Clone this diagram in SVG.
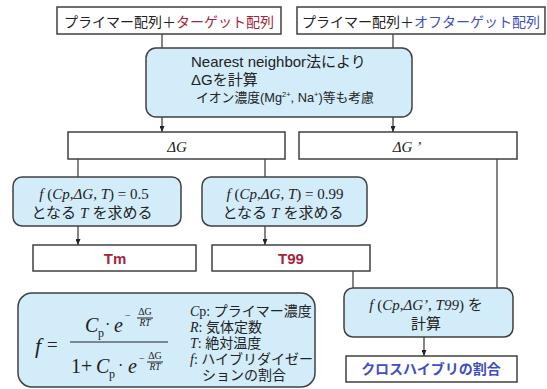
<svg xmlns="http://www.w3.org/2000/svg" width="547" height="389" viewBox="0 0 547 389">
<defs>
<marker id="ah" markerWidth="6" markerHeight="5" refX="6" refY="2.5" orient="auto" markerUnits="userSpaceOnUse"><path d="M0,0 L6,2.5 L0,5 z" fill="#222"/></marker>
</defs>
<style>
.box{fill:#fff;stroke:#404040;stroke-width:1.5}
.rbox{fill:#d2ecfa;stroke:#404040;stroke-width:1.5}
.ln{stroke:#333;stroke-width:1.2;fill:none}
.arr{stroke:#333;stroke-width:1.2;fill:none;marker-end:url(#ah)}
.jp{font-family:"Liberation Sans","Noto Sans CJK JP",sans-serif;fill:#222}
.sf{font-family:"Liberation Serif","Noto Sans CJK JP",serif;fill:#222}
.it{font-style:italic}
.red{fill:#a3263a}
.blue{fill:#3c4fc4}
.b{font-weight:bold}
.bar{stroke:#222;stroke-width:1}
</style>
<g id="connectors">
<path class="ln" d="M162,34 V48"/>
<path class="ln" d="M393,34 V48"/>
<path class="arr" d="M162,117 V132"/>
<path class="arr" d="M393,117 V132"/>
<path class="ln" d="M78,159 V177"/>
<path class="ln" d="M265,159 V177"/>
<path class="arr" d="M78,226 V245"/>
<path class="arr" d="M265,226 V245"/>
<path class="ln" d="M353,271 V288"/>
<path class="ln" d="M497,159 V288"/>
<path class="arr" d="M424,337 V356"/>
</g>
<g id="top-target">
<rect class="box" x="57" y="7" width="224" height="27"/>
<text class="jp" x="169" y="26.5" font-size="14" text-anchor="middle">プライマー配列＋<tspan class="red">ターゲット配列</tspan></text>
</g>
<g id="top-offtarget">
<rect class="box" x="297" y="7" width="248" height="27"/>
<text class="jp" x="421" y="26.5" font-size="14" text-anchor="middle">プライマー配列＋<tspan class="blue">オフターゲット配列</tspan></text>
</g>
<g id="nn-calc">
<rect class="rbox" x="146" y="48" width="266" height="69" rx="10"/>
<text class="jp" x="191" y="67" font-size="15">Nearest neighbor法により</text>
<text class="jp" x="191" y="85" font-size="15">ΔGを計算</text>
<text class="jp" x="196" y="102" font-size="12.8">イオン濃度(Mg<tspan font-size="7.5" dy="-5">2+</tspan><tspan dy="5">, Na</tspan><tspan font-size="7.5" dy="-5">+</tspan><tspan dy="5">)等も考慮</tspan></text>
</g>
<g id="dg">
<rect class="box" x="68" y="132" width="217" height="27"/>
<text class="sf it" x="177" y="152" font-size="15" text-anchor="middle">ΔG</text>
</g>
<g id="dg-prime">
<rect class="box" x="299" y="132" width="218" height="27"/>
<text class="sf it" x="407" y="152" font-size="15" text-anchor="middle">ΔG ’</text>
</g>
<g id="solve-tm">
<rect class="rbox" x="13" y="177" width="168" height="49" rx="9"/>
<text class="sf" x="94" y="199" font-size="15" text-anchor="middle"><tspan class="it">f</tspan> (<tspan class="it">Cp</tspan>,<tspan class="it">ΔG</tspan>, <tspan class="it">T</tspan>) = 0.5</text>
<text class="jp" x="92" y="218" font-size="15" text-anchor="middle">となる <tspan class="sf it">T</tspan> を求める</text>
</g>
<g id="solve-t99">
<rect class="rbox" x="202" y="177" width="165" height="49" rx="9"/>
<text class="sf" x="285" y="199" font-size="15" text-anchor="middle"><tspan class="it">f</tspan> (<tspan class="it">Cp</tspan>,<tspan class="it">ΔG</tspan>, <tspan class="it">T</tspan>) = 0.99</text>
<text class="jp" x="283" y="218" font-size="15" text-anchor="middle">となる <tspan class="sf it">T</tspan> を求める</text>
</g>
<g id="tm">
<rect class="box" x="33" y="245" width="163" height="26"/>
<text class="jp red b" x="115" y="263.5" font-size="15" text-anchor="middle">Tm</text>
</g>
<g id="t99">
<rect class="box" x="212" y="245" width="158" height="26"/>
<text class="jp red b" x="291" y="263.5" font-size="15" text-anchor="middle">T99</text>
</g>
<g id="calc-f">
<rect class="rbox" x="344" y="288" width="169" height="49" rx="9"/>
<text class="sf" x="426" y="310" font-size="15" text-anchor="middle"><tspan class="it">f</tspan> (<tspan class="it">Cp</tspan>,<tspan class="it">ΔG’</tspan>, <tspan class="it">T99</tspan>) <tspan class="jp">を</tspan></text>
<text class="jp" x="426" y="329" font-size="15" text-anchor="middle">計算</text>
</g>
<g id="cross-hybrid">
<rect class="box" x="346" y="356" width="171" height="26"/>
<text class="jp blue b" x="431" y="374" font-size="14" text-anchor="middle">クロスハイブリの割合</text>
</g>
<g id="formula">
<rect class="rbox" x="18" y="293" width="297" height="94" rx="14"/>
<text class="sf it" x="35" y="353" font-size="22">f</text>
<text class="sf" x="47" y="351" font-size="19">=</text>
<line class="bar" x1="70" y1="342" x2="168" y2="342"/>
<text class="sf it" x="85" y="332" font-size="20">C</text>
<text class="sf" x="98" y="337" font-size="12">p</text>
<text class="sf" x="105" y="330" font-size="16">·</text>
<text class="sf it" x="114" y="332" font-size="20">e</text>
<text class="sf" x="125" y="319" font-size="10">−</text>
<text class="sf" x="145" y="315" font-size="10" text-anchor="middle">ΔG</text>
<line class="bar" x1="137" y1="318" x2="153" y2="318"/>
<text class="sf it" x="145" y="326" font-size="9.5" text-anchor="middle">RT</text>
<text class="sf" x="71" y="373" font-size="20">1</text>
<text class="sf" x="81" y="373" font-size="20">+</text>
<text class="sf it" x="96" y="373" font-size="20">C</text>
<text class="sf" x="109" y="378" font-size="12">p</text>
<text class="sf" x="118" y="371" font-size="16">·</text>
<text class="sf it" x="128" y="373" font-size="20">e</text>
<text class="sf" x="139" y="362" font-size="10">−</text>
<text class="sf" x="155" y="359" font-size="10" text-anchor="middle">ΔG</text>
<line class="bar" x1="147" y1="362" x2="163" y2="362"/>
<text class="sf it" x="155" y="370" font-size="9.5" text-anchor="middle">RT</text>
<text class="jp" x="190" y="316" font-size="14"><tspan class="sf it">C</tspan><tspan class="sf">p: </tspan>プライマー濃度</text>
<text class="jp" x="190" y="332" font-size="14"><tspan class="sf it">R</tspan><tspan class="sf">: </tspan>気体定数</text>
<text class="jp" x="190" y="348" font-size="14"><tspan class="sf it">T</tspan><tspan class="sf">: </tspan>絶対温度</text>
<text class="jp" x="190" y="364" font-size="14"><tspan class="sf it">f</tspan><tspan class="sf">: </tspan>ハイブリダイゼー</text>
<text class="jp" x="202" y="380" font-size="14">ションの割合</text>
</g>
</svg>
